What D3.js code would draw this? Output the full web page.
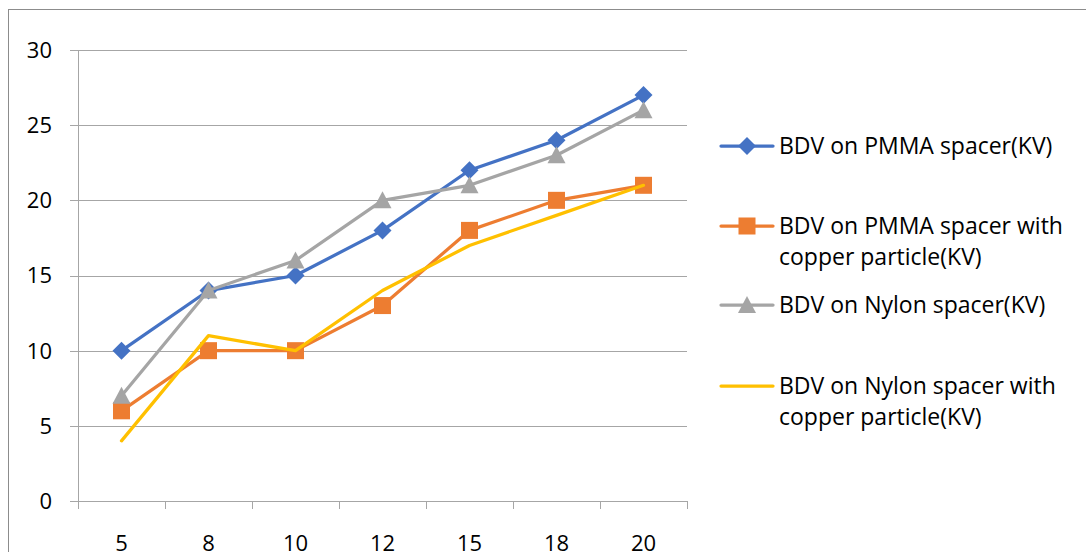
<!DOCTYPE html>
<html>
<head>
<meta charset="utf-8">
<script src="https://cdn.jsdelivr.net/npm/d3@7"></script>
<style>
  html, body { margin: 0; padding: 0; background: #fff; }
  svg text { font-family: "Open Sans", "Noto Sans", sans-serif; fill: #000; }
</style>
</head>
<body>
<svg id="chart" width="1086" height="552"></svg>
<script>
const categories = ["5", "8", "10", "12", "15", "18", "20"];
const pmma = [10, 14, 15, 18, 22, 24, 27];
const pmmaCopper = [6, 10, 10, 13, 18, 20, 21];
const nylon = [7, 14, 16, 20, 21, 23, 26];
const nylonCopper = [4, 11, 10, 14, 17, 19, 21];
const yTicks = [0, 5, 10, 15, 20, 25, 30];

const series = [
  { name: ["BDV on PMMA spacer(KV)"], values: pmma, color: "#4472C4", marker: "diamond" },
  { name: ["BDV on PMMA spacer with", "copper particle(KV)"], values: pmmaCopper, color: "#ED7D31", marker: "square" },
  { name: ["BDV on Nylon spacer(KV)"], values: nylon, color: "#A5A5A5", marker: "triangle" },
  { name: ["BDV on Nylon spacer with", "copper particle(KV)"], values: nylonCopper, color: "#FFC000", marker: null },
];

const svg = d3.select("#chart");
const plot = { left: 78, right: 687, top: 50, bottom: 501 };

// outer chart border (runs off right/bottom edge)
svg.append("rect").attr("x", 8.5).attr("y", 9.5).attr("width", 1200).attr("height", 600)
  .attr("fill", "none").attr("stroke", "#8c8c8c").attr("stroke-width", 1);

const x = d3.scaleBand().domain(categories).range([plot.left, plot.right]);
const y = d3.scaleLinear().domain([0, 30]).range([plot.bottom, plot.top]);

// gridlines with small left ticks
svg.append("g").selectAll("line").data(yTicks).join("line")
  .attr("x1", plot.left - 8).attr("x2", plot.right)
  .attr("y1", d => Math.round(y(d)) + 0.5).attr("y2", d => Math.round(y(d)) + 0.5)
  .attr("stroke", "#a6a6a6").attr("stroke-width", 1);

// vertical axis line
svg.append("line").attr("x1", plot.left + 0.5).attr("x2", plot.left + 0.5)
  .attr("y1", plot.top).attr("y2", plot.bottom)
  .attr("stroke", "#a6a6a6");

// category boundary ticks
const bounds = categories.map(c => x(c)).concat([plot.right]);
svg.append("g").selectAll("line").data(bounds).join("line")
  .attr("x1", d => Math.round(d) + 0.5).attr("x2", d => Math.round(d) + 0.5)
  .attr("y1", plot.bottom).attr("y2", plot.bottom + 8)
  .attr("stroke", "#a6a6a6");

// y labels
svg.append("g").selectAll("text").data(yTicks).join("text")
  .attr("x", 52).attr("y", d => y(d)).attr("dy", "0.36em")
  .attr("text-anchor", "end").attr("font-size", 22).text(d => d);

// x labels (cut at bottom edge, as in the original)
svg.append("g").selectAll("text").data(categories).join("text")
  .attr("x", d => x(d) + x.bandwidth() / 2).attr("y", 551)
  .attr("text-anchor", "middle").attr("font-size", 22).text(d => d);

function drawMarker(g, type, color) {
  if (type === "diamond") {
    g.append("path").attr("d", "M0,-9L9,0L0,9L-9,0Z").attr("fill", color);
  } else if (type === "square") {
    g.append("rect").attr("x", -8.5).attr("y", -8.5).attr("width", 17).attr("height", 17).attr("fill", color);
  } else if (type === "triangle") {
    g.append("path").attr("d", "M0,-9L9,8L-9,8Z").attr("fill", color);
  }
}

const line = d3.line()
  .x((d, i) => x(categories[i]) + x.bandwidth() / 2)
  .y(d => y(d));

series.forEach(s => {
  const g = svg.append("g");
  g.append("path").datum(s.values).attr("d", line)
    .attr("fill", "none").attr("stroke", s.color).attr("stroke-width", 3.25)
    .attr("stroke-linejoin", "round").attr("stroke-linecap", "round");
  if (s.marker) {
    s.values.forEach((v, i) => {
      const m = g.append("g").attr("transform", `translate(${x(categories[i]) + x.bandwidth() / 2},${y(v)})`);
      drawMarker(m, s.marker, s.color);
    });
  }
});

// legend
const legendRows = [146, 226, 305, 386];
series.forEach((s, i) => {
  const ly = legendRows[i];
  const g = svg.append("g").attr("transform", `translate(0,${ly})`);
  g.append("line").attr("x1", 721).attr("x2", 773).attr("y1", 0).attr("y2", 0)
    .attr("stroke", s.color).attr("stroke-width", 3.25).attr("stroke-linecap", "round");
  if (s.marker) {
    const m = g.append("g").attr("transform", "translate(747,0)");
    drawMarker(m, s.marker, s.color);
  }
  s.name.forEach((t, j) => {
    g.append("text").attr("x", 779).attr("y", j * 31).attr("dy", "0.36em")
      .attr("font-size", 23).text(t);
  });
});
</script>
</body>
</html>
